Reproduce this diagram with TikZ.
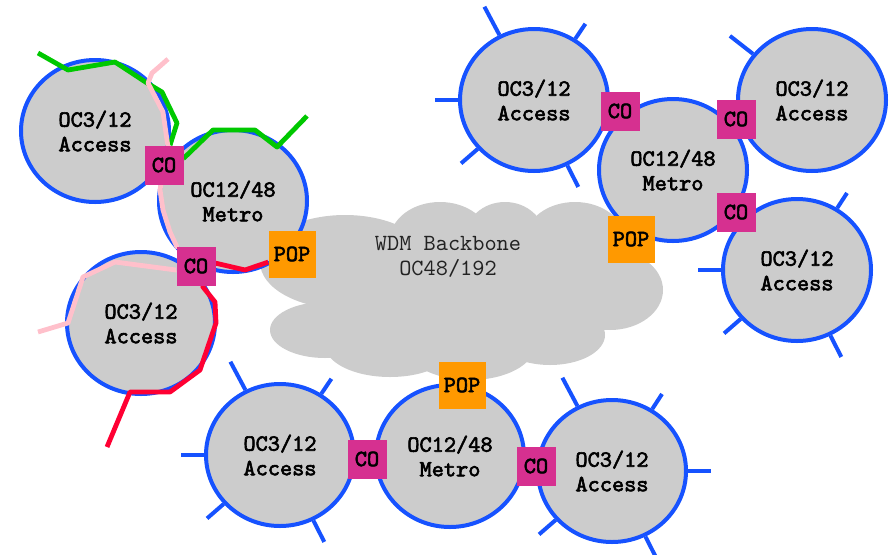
\documentclass[tikz,border=0pt]{standalone}
\usepackage{fontspec}
\newfontfamily\cbold{lmmono10-regular.otf}[FakeBold=2.6]
\newfontfamily\cthin{lmmono10-regular.otf}
\usetikzlibrary{shapes.geometric}
\definecolor{ringblue}{RGB}{22,82,255}
\definecolor{ringgray}{RGB}{204,204,204}
\definecolor{comag}{RGB}{214,48,144}
\definecolor{poporange}{RGB}{255,153,0}
\definecolor{pathgreen}{RGB}{0,200,0}
\definecolor{pathpink}{RGB}{255,192,203}
\definecolor{pathred}{RGB}{255,0,51}
\definecolor{cloudtext}{RGB}{34,34,34}
\pgfdeclarelayer{cloudlayer}
\pgfdeclarelayer{routelayer}
\pgfdeclarelayer{boxlayer}
\pgfsetlayers{cloudlayer,main,routelayer,boxlayer}
\begin{document}
\begin{tikzpicture}[x=0.75pt,y=-0.75pt,
  labelfont/.style={font=\cbold\fontsize{17.4}{18.4}\selectfont},
  ring/.style={ellipse, draw=ringblue, line width=3pt, fill=ringgray,
    minimum width=111pt, minimum height=106.5pt, inner sep=0pt, align=center, labelfont},
  spoke/.style={draw=ringblue, line width=3pt},
  cobox/.style={fill=comag, minimum size=29.25pt, inner sep=0pt, labelfont},
  popbox/.style={fill=poporange, minimum size=35.25pt, inner sep=0pt, labelfont},
  route/.style={line width=3.6pt, line join=round}
]
\useasboundingbox (0,0) rectangle (892,554);

% cloud
\begin{pgfonlayer}{cloudlayer}
\fill[ringgray] (345,262) ellipse [x radius=63.75pt, y radius=35.25pt];
\fill[ringgray] (440,240) ellipse [x radius=37.5pt, y radius=28.5pt];
\fill[ringgray] (505,238) ellipse [x radius=30pt, y radius=27pt];
\fill[ringgray] (575,240) ellipse [x radius=37.5pt, y radius=28.5pt];
\fill[ringgray] (610,290) ellipse [x radius=39.75pt, y radius=30pt];
\fill[ringgray] (325,330) ellipse [x radius=41.25pt, y radius=21pt];
\fill[ringgray] (390,345) ellipse [x radius=48.75pt, y radius=24pt];
\fill[ringgray] (470,345) ellipse [x radius=48.75pt, y radius=26.25pt];
\fill[ringgray] (550,335) ellipse [x radius=41.25pt, y radius=22.5pt];
\fill[ringgray] (460,290) ellipse [x radius=112.5pt, y radius=45pt];
\node[font=\cthin\fontsize{17.4}{18.75}\selectfont, text=cloudtext, align=center] (cloudtxt) at (448,257) {WDM Backbone\\OC48/192};
\end{pgfonlayer}

% rings
\node[ring] (aTL) at (95,131) {OC3/12\\Access};
\node[ring] (mTL) at (233,201) {OC12/48\\Metro};
\node[ring] (aBL) at (141,323) {OC3/12\\Access};

\node[ring] (aTR1) at (534,100) {OC3/12\\Access};
\node[ring] (mTR) at (673,170) {OC12/48\\Metro};
\node[ring] (aTR2) at (812,100) {OC3/12\\Access};
\node[ring] (aTR3) at (797,270) {OC3/12\\Access};

\node[ring] (aB1) at (280,455) {OC3/12\\Access};
\node[ring] (mB) at (450,456) {OC12/48\\Metro};
\node[ring] (aB2) at (612,471) {OC3/12\\Access};

% spokes
\draw[spoke] (aTR1.118) -- ++(118:24pt);
\draw[spoke] (aTR1.56) -- ++(56:13.5pt);
\draw[spoke] (aTR1.180) -- ++(180:17pt);
\draw[spoke] (aTR1.221) -- ++(221:16.5pt);
\draw[spoke] (aTR1.297) -- ++(297:18pt);

\draw[spoke] (aTR2.142) -- ++(142:22pt);

\draw[spoke] (aTR3.57) -- ++(57:13.5pt);
\draw[spoke] (aTR3.180) -- ++(180:17pt);
\draw[spoke] (aTR3.221) -- ++(221:16.5pt);
\draw[spoke] (aTR3.297) -- ++(297:18pt);

\draw[spoke] (aB1.118) -- ++(118:24pt);
\draw[spoke] (aB1.56) -- ++(56:13.5pt);
\draw[spoke] (aB1.180) -- ++(180:17pt);
\draw[spoke] (aB1.221) -- ++(221:16.5pt);
\draw[spoke] (aB1.297) -- ++(297:18pt);

\draw[spoke] (aB2.118) -- ++(118:24pt);
\draw[spoke] (aB2.57) -- ++(57:13.5pt);
\draw[spoke] (aB2.0) -- ++(0:17pt);
\draw[spoke] (aB2.221) -- ++(221:16.5pt);
\draw[spoke] (aB2.297) -- ++(297:18pt);

% boxes
\begin{pgfonlayer}{boxlayer}
\node[cobox] (coTL1) at (164,165) {CO};
\node[cobox] (coTL2) at (196,266) {CO};
\node[popbox] (popTL) at (292,254) {POP};
\node[cobox] (coTR1) at (620,111) {CO};
\node[cobox] (coTR2) at (736,119) {CO};
\node[cobox] (coTR3) at (736,212) {CO};
\node[popbox] (popTR) at (631,239) {POP};
\node[cobox] (coB1) at (367,459) {CO};
\node[cobox] (coB2) at (536,466) {CO};
\node[popbox] (popB) at (462,385) {POP};
\end{pgfonlayer}

% routes
\coordinate (gA) at (38,53);
\coordinate (gB) at (307,116);
\coordinate (pA) at (168,59);
\coordinate (pB) at (38,332);
\coordinate (rB) at (107,447);
\begin{pgfonlayer}{routelayer}
\draw[route, pathgreen] (gA) -- (68,70) -- (115,62) -- (147,83) -- (162,92) -- (177,123) -- (171,142) -- (coTL1)
  -- (184,158) -- (213,130) -- (255,130) -- (277,147) -- (gB);
\draw[route, pathpink] (pA) -- (159,67) -- (152,73) -- (148,83) -- (163,112) -- (168,147) -- (coTL1)
  -- (160,190) -- (163,210) -- (170,232) -- (177,247) -- (coTL2)
  -- (176,270) -- (115,262) -- (83,277) -- (68,323) -- (pB);
\draw[route, pathred] (popTL) -- (245,270) -- (215,263) -- (coTL2) -- (203,287) -- (215,302) -- (216,323)
  -- (200,370) -- (170,392) -- (130,392) -- (rB);
\end{pgfonlayer}
\end{tikzpicture}
\end{document}
